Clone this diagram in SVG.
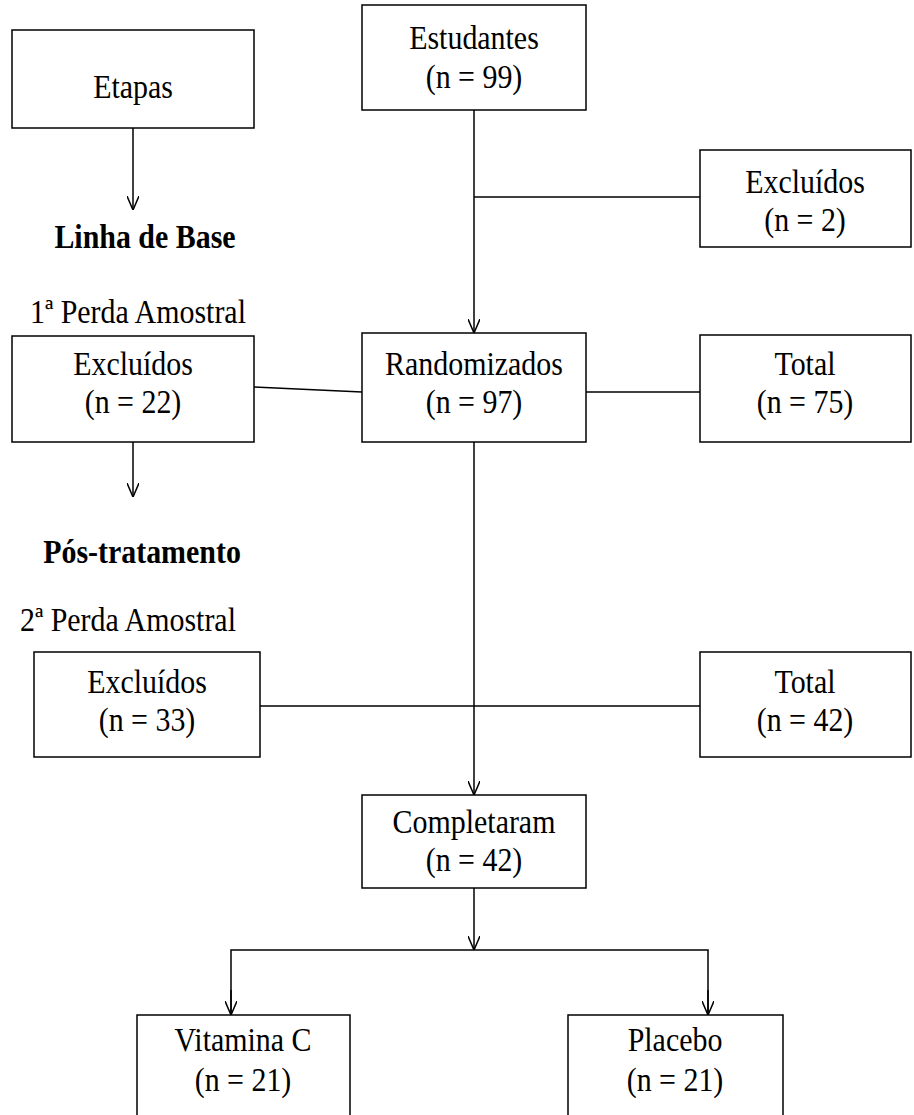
<svg xmlns="http://www.w3.org/2000/svg" width="914" height="1115" viewBox="0 0 914 1115">
  <style>
    .box { fill: #ffffff; stroke: #000000; stroke-width: 1.5; }
    .lbl { font-family: "Liberation Serif", "Times New Roman", serif; font-size: 34px; fill: #000000; text-anchor: middle; }
    .stage { font-family: "Liberation Serif", "Times New Roman", serif; font-size: 34px; font-weight: bold; fill: #000000; text-anchor: middle; }
    .loss { font-family: "Liberation Serif", "Times New Roman", serif; font-size: 34px; fill: #000000; text-anchor: start; }
    .wire { fill: none; stroke: #000000; stroke-width: 1.5; }
  </style>
  <defs>
    <marker id="arrow" viewBox="0 0 14 12" refX="14" refY="6" markerWidth="14" markerHeight="12" markerUnits="userSpaceOnUse" orient="auto">
      <path d="M0,0 L14,6 L0,12" fill="none" stroke="#000000" stroke-width="1.5"/>
    </marker>
  </defs>
  <rect width="914" height="1115" fill="#ffffff"/>

  <!-- connectors -->
  <g id="connectors">
    <line class="wire" x1="133" y1="128" x2="133" y2="210" marker-end="url(#arrow)"/>
    <line class="wire" x1="474" y1="110" x2="474" y2="333" marker-end="url(#arrow)"/>
    <line class="wire" x1="474" y1="197" x2="700" y2="197"/>
    <line class="wire" x1="254" y1="387" x2="362" y2="392"/>
    <line class="wire" x1="586" y1="392" x2="700" y2="392"/>
    <line class="wire" x1="133" y1="442" x2="133" y2="497" marker-end="url(#arrow)"/>
    <line class="wire" x1="474" y1="442" x2="474" y2="795" marker-end="url(#arrow)"/>
    <line class="wire" x1="260" y1="706" x2="700" y2="706"/>
    <line class="wire" x1="474" y1="888" x2="474" y2="950" marker-end="url(#arrow)"/>
    <polyline class="wire" points="231,1015 231,950 708,950 708,1015"/>
    <line class="wire" x1="231" y1="990" x2="231" y2="1015" marker-end="url(#arrow)"/>
    <line class="wire" x1="708" y1="990" x2="708" y2="1015" marker-end="url(#arrow)"/>
  </g>

  <!-- labels use a slightly narrowed serif -->
  <g id="etapas">
    <rect class="box" x="12" y="30" width="242" height="98"/>
    <text class="lbl" transform="translate(133,98) scale(0.88,1)">Etapas</text>
  </g>
  <g id="linha-de-base">
    <text class="stage" transform="translate(145,248) scale(0.88,1)">Linha de Base</text>
  </g>
  <g id="perda-1">
    <text class="loss" transform="translate(30,323) scale(0.88,1)">1ª Perda Amostral</text>
  </g>
  <g id="estudantes">
    <rect class="box" x="362" y="5" width="224" height="105"/>
    <text class="lbl" transform="translate(474,49) scale(0.88,1)">Estudantes</text>
    <text class="lbl" transform="translate(474,88) scale(0.88,1)">(n = 99)</text>
  </g>
  <g id="excluidos-2">
    <rect class="box" x="700" y="150" width="211" height="97"/>
    <text class="lbl" transform="translate(805,193) scale(0.88,1)">Excluídos</text>
    <text class="lbl" transform="translate(805,231) scale(0.88,1)">(n = 2)</text>
  </g>
  <g id="excluidos-22">
    <rect class="box" x="12" y="336" width="242" height="106"/>
    <text class="lbl" transform="translate(133,375) scale(0.88,1)">Excluídos</text>
    <text class="lbl" transform="translate(133,413) scale(0.88,1)">(n = 22)</text>
  </g>
  <g id="randomizados">
    <rect class="box" x="362" y="333" width="224" height="109"/>
    <text class="lbl" transform="translate(474,375) scale(0.88,1)">Randomizados</text>
    <text class="lbl" transform="translate(474,413) scale(0.88,1)">(n = 97)</text>
  </g>
  <g id="total-75">
    <rect class="box" x="700" y="335" width="211" height="107"/>
    <text class="lbl" transform="translate(805,375) scale(0.88,1)">Total</text>
    <text class="lbl" transform="translate(805,413) scale(0.88,1)">(n = 75)</text>
  </g>
  <g id="pos-tratamento">
    <text class="stage" transform="translate(142,563) scale(0.88,1)">Pós-tratamento</text>
  </g>
  <g id="perda-2">
    <text class="loss" transform="translate(20,631) scale(0.88,1)">2ª Perda Amostral</text>
  </g>
  <g id="excluidos-33">
    <rect class="box" x="34" y="652" width="226" height="105"/>
    <text class="lbl" transform="translate(147,693) scale(0.88,1)">Excluídos</text>
    <text class="lbl" transform="translate(147,731) scale(0.88,1)">(n = 33)</text>
  </g>
  <g id="total-42">
    <rect class="box" x="700" y="652" width="211" height="105"/>
    <text class="lbl" transform="translate(805,693) scale(0.88,1)">Total</text>
    <text class="lbl" transform="translate(805,731) scale(0.88,1)">(n = 42)</text>
  </g>
  <g id="completaram">
    <rect class="box" x="362" y="795" width="224" height="93"/>
    <text class="lbl" transform="translate(474,833) scale(0.88,1)">Completaram</text>
    <text class="lbl" transform="translate(474,871) scale(0.88,1)">(n = 42)</text>
  </g>
  <g id="vitamina-c">
    <rect class="box" x="137" y="1015" width="213" height="110"/>
    <text class="lbl" transform="translate(243,1051) scale(0.88,1)">Vitamina C</text>
    <text class="lbl" transform="translate(243,1091) scale(0.88,1)">(n = 21)</text>
  </g>
  <g id="placebo">
    <rect class="box" x="568" y="1015" width="215" height="110"/>
    <text class="lbl" transform="translate(675,1051) scale(0.88,1)">Placebo</text>
    <text class="lbl" transform="translate(675,1091) scale(0.88,1)">(n = 21)</text>
  </g>
</svg>
